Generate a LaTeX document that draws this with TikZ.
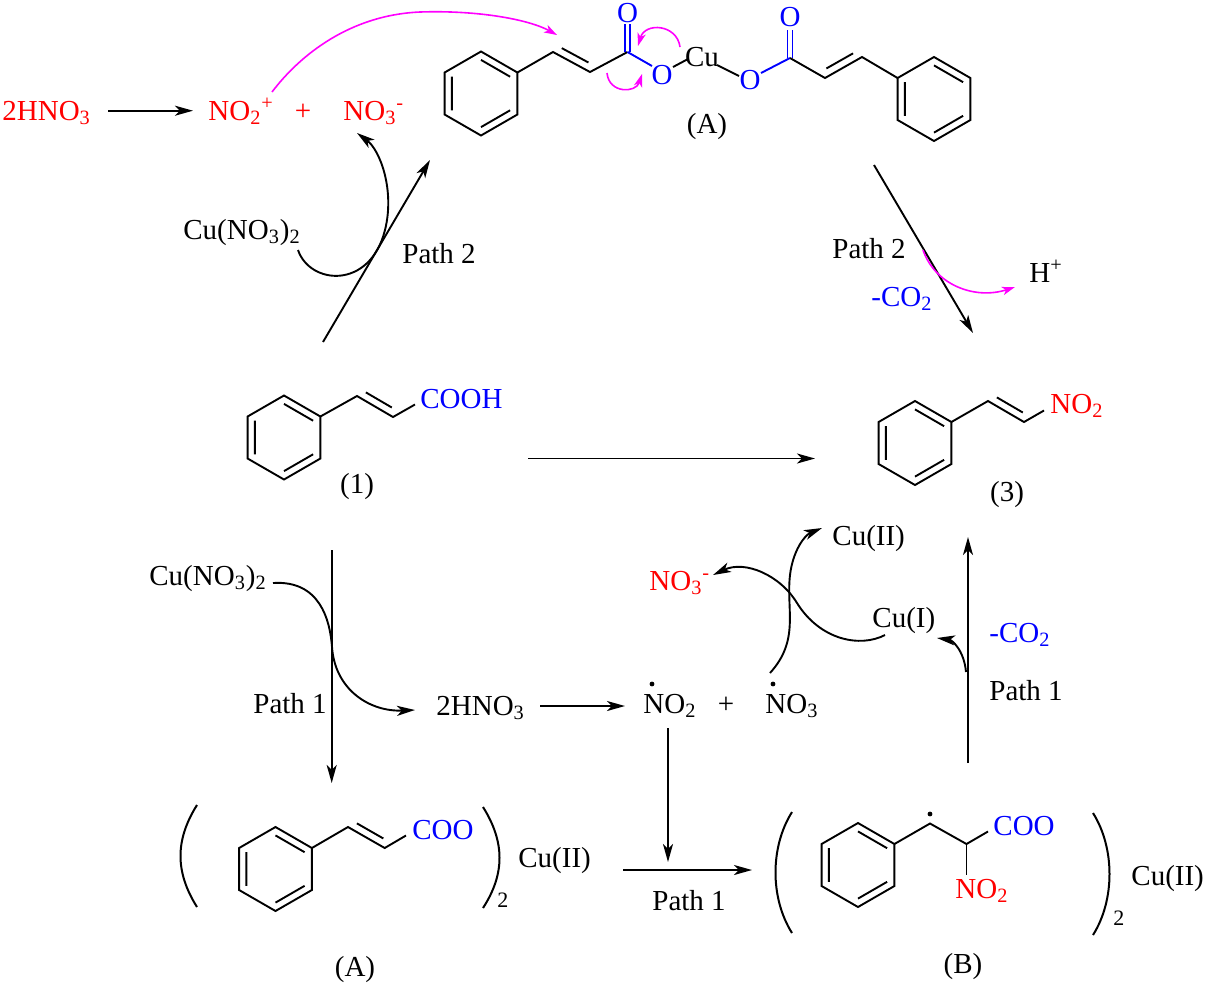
\documentclass[tikz,border=0pt]{standalone}
\usepackage{fontspec}
\setmainfont{Liberation Serif}
\usetikzlibrary{arrows.meta,calc}
\definecolor{cred}{RGB}{255,0,0}
\definecolor{cblue}{RGB}{0,0,255}
\definecolor{cmag}{RGB}{255,0,255}
\tikzset{
  lbl/.style={inner sep=0pt, font=\fontsize{14.5}{17}\selectfont},
  smalllbl/.style={inner sep=0pt, font=\fontsize{11}{13}\selectfont},
  bond/.style={line width=0.95pt, line cap=butt, line join=miter},
  arr/.style={line width=0.95pt, -{Stealth[length=9pt,width=5pt,inset=2.4pt]}},
  marr/.style={draw=cmag, line width=0.8pt, -{Stealth[length=6.5pt,width=4.2pt,inset=1.8pt,fill=cmag]}},
  paren/.style={line width=1pt},
}
\newcommand\benz[1]{%
  \draw[bond] ($(#1)+(0,-42)$) -- ($(#1)+(36.4,-21)$) -- ($(#1)+(36.4,21)$) -- ($(#1)+(0,42)$) -- ($(#1)+(-36.4,21)$) -- ($(#1)+(-36.4,-21)$) -- cycle;
  \draw[bond] ($(#1)+(-29.1,-16.8)$) -- ($(#1)+(-29.1,16.8)$)
              ($(#1)+(0,-33.6)$) -- ($(#1)+(29.1,-16.8)$)
              ($(#1)+(0,33.6)$) -- ($(#1)+(29.1,16.8)$);}
\newcommand\dbond[2]{\draw[bond] ($(#1)!0.14!(#2)!3.8pt!90:(#2)$) -- ($(#2)!0.14!(#1)!3.8pt!-90:(#1)$);}
\begin{document}
\begin{tikzpicture}[x=0.5pt,y=-0.5pt]
\path[use as bounding box, fill=white] (0,0) rectangle (1205,987);

% ---------------- top row
\node[lbl,text=cred,anchor=base west] (hno3top) at (2,120) {2HNO\textsubscript{3}};
\node[lbl,text=cred,anchor=base west] (no2plus) at (208,120) {NO\textsubscript{2}\textsuperscript{+}};
\node[lbl,text=cred,anchor=base] (plustop) at (303,120) {+};
\node[lbl,text=cred,anchor=base west] (no3minus) at (343,120) {NO\textsubscript{3}\textsuperscript{-}};
\coordinate (t1s) at (108,110.7); \coordinate (t1e) at (193,110.7);
\draw[arr] (t1s) -- (t1e);

% ---------------- top molecule (A)
\coordinate (rTL) at (481,93.5); \benz{rTL}
\coordinate (aC0) at (517.4,72.5);
\coordinate (aC1) at (553,52); \coordinate (aC2) at (590,72); \coordinate (aC3) at (627.5,52);
\draw[bond] (aC0) -- (aC1) -- (aC2) -- (aC3);
\dbond{aC1}{aC2}
\node[lbl,text=cblue] (aO1) at (627.5,13) {O};
\draw[bond,cblue] ($(aC3)+(-2.5,0)$) -- ($(aC3)+(-2.5,-28)$) ($(aC3)+(2.5,0)$) -- ($(aC3)+(2.5,-28)$);
\node[lbl,text=cblue] (aO2) at (662,75) {O};
\draw[bond,cblue] (aC3) -- (652,66);
\node[lbl] (cu) at (702,57) {Cu};
\draw[bond] (673,67) -- (688,59);
\draw[bond] (717,65) -- (739,76);
\node[lbl,text=cblue] (aO3) at (750,80) {O};
\coordinate (aC4) at (790,58);
\draw[bond,cblue] (761,73) -- (aC4);
\draw[bond,cblue] ($(aC4)+(-2.5,0)$) -- ($(aC4)+(-2.5,-28)$) ($(aC4)+(2.5,0)$) -- ($(aC4)+(2.5,-28)$);
\node[lbl,text=cblue] (aO4) at (790,17) {O};
\coordinate (aC5) at (825,78); \coordinate (aC6) at (862,57); \coordinate (aC7) at (897.6,78);
\draw[bond] (aC4) -- (aC5) -- (aC6) -- (aC7);
\dbond{aC5}{aC6}
\coordinate (rTR) at (934,99); \benz{rTR}
\node[lbl] (labAtop) at (707,127) {(A)};

% magenta arrows top
\coordinate (m1s) at (272,92); \coordinate (m1m) at (420,12); \coordinate (m1e) at (557,35);
\draw[marr] (m1s) .. controls (300,55) and (350,15) .. (m1m) .. controls (480,10) and (530,20) .. (m1e);
\coordinate (m2s) at (680,47); \coordinate (m2e) at (638,46);
\draw[marr] (m2s) .. controls (677,24) and (645,22) .. (m2e);
\coordinate (m3s) at (607,73); \coordinate (m3e) at (642,74);
\draw[marr] (m3s) .. controls (609,94) and (636,93) .. (m3e);

% ---------------- path 2 left
\node[lbl,anchor=base west] (cuno3a) at (183,239) {Cu(NO\textsubscript{3})\textsubscript{2}};
\node[lbl,anchor=base west] (path2a) at (402,263) {Path 2};
\coordinate (p2s) at (323,342); \coordinate (p2e) at (430,160);
\draw[arr] (p2s) -- (p2e);
\coordinate (c1s) at (298,250); \coordinate (c1m) at (385,230); \coordinate (c1e) at (357,133);
\draw[arr] (c1s) .. controls (310,285) and (370,290) .. (c1m) .. controls (395,190) and (380,150) .. (c1e);

% ---------------- path 2 right
\coordinate (q2s) at (874,165); \coordinate (q2e) at (973,333);
\draw[arr] (q2s) -- (q2e);
\node[lbl,anchor=base west] (path2b) at (832,258) {Path 2};
\node[lbl,text=cblue,anchor=base west] (co2a) at (871,306) {-CO\textsubscript{2}};
\node[lbl,anchor=base west] (hplus) at (1029,282) {H\textsuperscript{+}};
\coordinate (m4s) at (923,250); \coordinate (m4e) at (1015,287);
\draw[marr] (m4s) .. controls (935,285) and (975,300) .. (m4e);

% ---------------- compound (1)
\coordinate (r1) at (284,437.5); \benz{r1}
\coordinate (b1a) at (320.4,416.5); \coordinate (b1b) at (357,396); \coordinate (b1c) at (393,417); \coordinate (b1d) at (415,404.5);
\draw[bond] (b1a) -- (b1b) -- (b1c) -- (b1d);
\dbond{b1b}{b1c}
\node[lbl,text=cblue,anchor=base west] (cooh) at (420,408) {COOH};
\node[lbl] (lab1) at (357,487) {(1)};
\coordinate (h1s) at (528,458.5); \coordinate (h1e) at (815,458.5);
\draw[arr] (h1s) -- (h1e);

% ---------------- compound (3)
\coordinate (r3) at (915,443); \benz{r3}
\coordinate (b3a) at (951.4,422); \coordinate (b3b) at (988,401); \coordinate (b3c) at (1024,422); \coordinate (b3d) at (1044,410.5);
\draw[bond] (b3a) -- (b3b) -- (b3c) -- (b3d);
\dbond{b3b}{b3c}
\node[lbl,text=cred,anchor=base west] (no2p3) at (1050,413) {NO\textsubscript{2}};
\node[lbl] (lab3) at (1007,495) {(3)};

% ---------------- path 1 left
\coordinate (v1s) at (331.7,550); \coordinate (v1e) at (331.7,783);
\draw[arr] (v1s) -- (v1e);
\node[lbl,anchor=base west] (cuno3b) at (149,585) {Cu(NO\textsubscript{3})\textsubscript{2}};
\coordinate (s1s) at (273,583); \coordinate (s1m) at (332,647); \coordinate (s1e) at (415,710);
\draw[arr] (s1s) .. controls (320,580) and (330,620) .. (s1m) .. controls (335,690) and (370,712) .. (s1e);
\node[lbl,anchor=base west] (path1a) at (253,713) {Path 1};
\node[lbl,anchor=base west] (hno3b) at (436,715) {2HNO\textsubscript{3}};
\coordinate (h2s) at (540,706); \coordinate (h2e) at (625,706);
\draw[arr] (h2s) -- (h2e);
\node[lbl,anchor=base west] (no2rad) at (643,713) {NO\textsubscript{2}};
\fill (652,684) circle[radius=1.2pt];
\node[lbl,anchor=base] (plusb) at (726,713) {+};
\node[lbl,anchor=base west] (no3rad) at (765,713) {NO\textsubscript{3}};
\fill (773,684) circle[radius=1.2pt];
\coordinate (v2s) at (668,728); \coordinate (v2e) at (668,862);
\draw[arr] (v2s) -- (v2e);

% ---------------- copper cycle
\node[lbl,anchor=base west] (cu2a) at (832,545) {Cu(II)};
\node[lbl,text=cred,anchor=base west] (no3m2) at (649,590) {NO\textsubscript{3}\textsuperscript{-}};
\node[lbl,anchor=base west] (cu1) at (872,627) {Cu(I)};
\coordinate (k1s) at (770,673); \coordinate (k1m) at (790,575); \coordinate (k1e) at (822,528);
\draw[arr] (k1s) .. controls (800,640) and (786,610) .. (k1m) .. controls (793,550) and (805,535) .. (k1e);
\coordinate (k2s) at (885,635); \coordinate (k2m) at (797,603); \coordinate (k2e) at (713,575);
\draw[arr] (k2s) .. controls (860,648) and (820,640) .. (k2m) .. controls (780,575) and (745,560) .. (k2e);

% ---------------- path 1 right
\coordinate (v3s) at (968,763); \coordinate (v3e) at (968,537);
\draw[arr] (v3s) -- (v3e);
\coordinate (k3s) at (966,672); \coordinate (k3e) at (937,638);
\draw[arr] (k3s) .. controls (964,650) and (952,640) .. (k3e);
\node[lbl,text=cblue,anchor=base west] (co2b) at (989,642) {-CO\textsubscript{2}};
\node[lbl,anchor=base west] (path1b) at (989,700) {Path 1};

% ---------------- bottom (A)
\draw[paren] (197,805) .. controls (175,840) and (175,872) .. (197,907);
\draw[paren] (483,807) .. controls (505,842) and (505,874) .. (483,908);
\coordinate (rA) at (275.5,869); \benz{rA}
\coordinate (bAa) at (311.9,848); \coordinate (bAb) at (348,827); \coordinate (bAc) at (384.7,848); \coordinate (bAd) at (406,835.5);
\draw[bond] (bAa) -- (bAb) -- (bAc) -- (bAd);
\dbond{bAb}{bAc}
\node[lbl,text=cblue,anchor=base west] (cooA) at (412,839) {COO};
\node[smalllbl,anchor=base west] (twoA) at (497,907) {2};
\node[lbl,anchor=base west] (cuA) at (518,867) {Cu(II)};
\node[lbl] (labAbot) at (355,970) {(A)};

\coordinate (h3s) at (623,870); \coordinate (h3e) at (752,870);
\draw[arr] (h3s) -- (h3e);
\node[lbl,anchor=base west] (path1c) at (652,910) {Path 1};

% ---------------- bottom (B)
\draw[paren] (792,812) .. controls (770,847) and (770,898) .. (792,933);
\draw[paren] (1093,813) .. controls (1115,848) and (1115,900) .. (1093,935);
\coordinate (rB) at (858,865); \benz{rB}
\coordinate (bBa) at (894.4,844); \coordinate (bBb) at (930,823.5); \coordinate (bBc) at (966.5,844); \coordinate (bBd) at (988,831.5); \coordinate (bBe) at (966.5,875);
\draw[bond] (bBa) -- (bBb) -- (bBc) -- (bBd);
\draw[bond] (bBc) -- (bBe);
\fill (930,814) circle[radius=1.2pt];
\node[lbl,text=cblue,anchor=base west] (cooB) at (993,835) {COO};
\node[lbl,text=cred,anchor=base west] (no2B) at (955,898) {NO\textsubscript{2}};
\node[smalllbl,anchor=base west] (twoB) at (1113,925) {2};
\node[lbl,anchor=base west] (cuB) at (1131,885) {Cu(II)};
\node[lbl] (labB) at (963,967) {(B)};
\end{tikzpicture}
\end{document}
